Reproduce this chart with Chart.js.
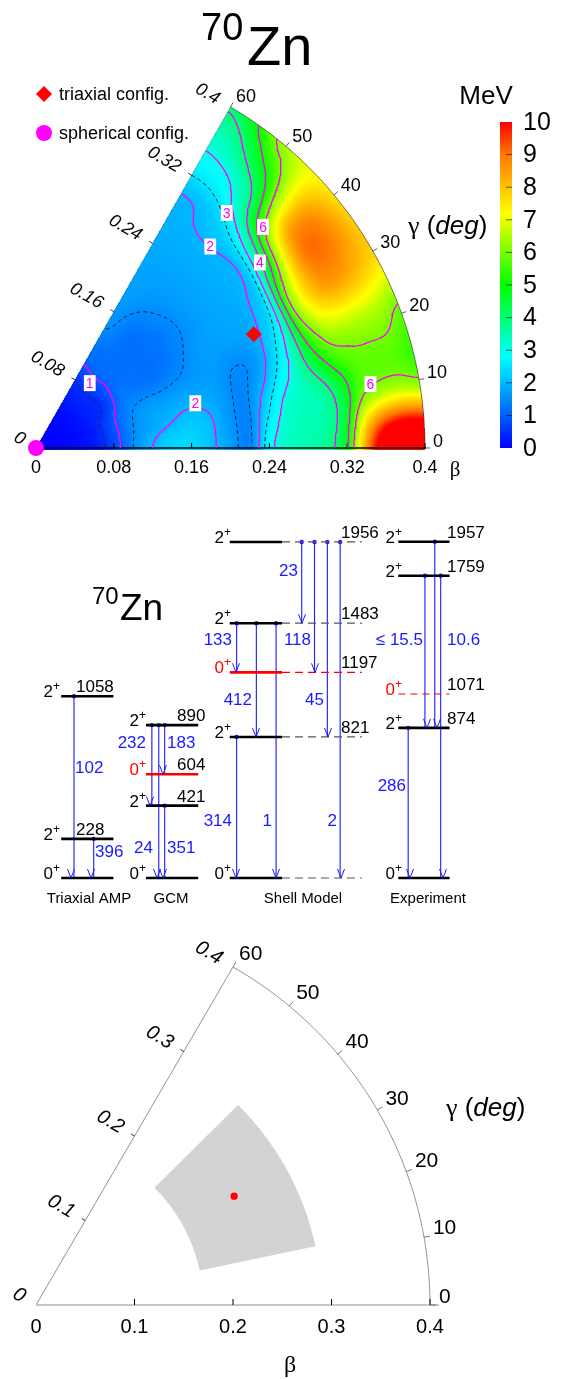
<!DOCTYPE html>
<html>
<head>
<meta charset="utf-8">
<script src="https://cdn.jsdelivr.net/npm/chart.js@4.4.0/dist/chart.umd.min.js"></script>
<style>
  body { margin: 0; background: #fff; }
  #wrap { position: relative; width: 562px; height: 1379px; }
  canvas { position: absolute; left: 0; }
</style>
</head>
<body>
<div id="wrap">
  <canvas id="pes" width="562" height="480" style="top:0px"></canvas>
  <canvas id="levels" width="562" height="440" style="top:480px"></canvas>
  <canvas id="sector" width="562" height="459" style="top:920px"></canvas>
</div>
<script>
// ---------- data: potential energy surface (MeV), beta step 0.02, gamma step 10 deg ----------
const betaStep = 0.02;
const gammaStep = 10;
const pesGamma0  = [0.00,0.03,0.10,0.25,0.75,1.50,2.00,2.35,2.35,2.10,1.70,1.42,2.80,3.30,3.50,3.75,4.90,8.50,11.0,12.0,12.0];
const pesGamma10 = [0.00,0.03,0.10,0.27,0.78,1.45,1.80,2.00,2.15,2.05,1.65,1.42,2.30,3.10,3.35,3.60,4.50,5.80,6.20,6.30,6.10];
const pesGamma20 = [0.00,0.03,0.10,0.28,0.80,1.40,1.65,1.70,1.75,1.72,1.65,1.45,1.65,2.35,3.30,5.00,6.10,6.30,6.30,6.20,5.80];
const pesGamma30 = [0.00,0.03,0.10,0.30,0.55,1.25,1.30,1.25,1.35,1.55,1.70,1.75,1.80,2.00,2.80,6.00,7.70,8.60,8.60,8.20,7.80];
const pesGamma40 = [0.00,0.03,0.10,0.30,0.55,1.10,1.20,1.20,1.25,1.40,1.60,1.75,1.85,1.93,2.20,4.00,6.70,8.40,8.70,8.30,7.60];
const pesGamma50 = [0.00,0.03,0.10,0.30,0.60,1.15,1.20,1.20,1.30,1.50,1.65,1.75,1.85,1.92,2.10,2.45,3.20,3.80,4.70,5.60,6.40];
const pesGamma60 = [0.00,0.03,0.10,0.30,0.50,1.05,1.25,1.50,1.60,1.70,1.75,1.80,1.85,1.90,1.92,2.02,2.50,2.85,3.20,3.60,4.10];
const solidLevels = [1, 2, 3, 4, 5, 6];
const dashedLevels = [0.5, 1.5, 2.5];
const colorbarTicks = [0,1,2,3,4,5,6,7,8,9,10];
const pesBetaTicks = [0, 0.08, 0.16, 0.24, 0.32, 0.4];
const gammaTicks = [0, 10, 20, 30, 40, 50, 60];
const triaxialConfig = { beta: 0.252, gamma: 27.3 };
const sphericalConfig = { beta: 0, gamma: 0 };
// contour labels: [text, beta, gamma]
const contourLabels = [['1',0.086,50],['2',0.170,15.5],['2',0.272,48.8],['3',0.309,50.6],['6',0.324,43.9],['4',0.2975,39.3],['6',0.350,10.7]];

// ---------- data: level schemes (keV) ----------
const schemeNames = ['Triaxial AMP', 'GCM', 'Shell Model', 'Experiment'];
const ampE = [0, 228, 1058];          const ampJ = [0, 2, 2];
const gcmE = [0, 421, 604, 890];      const gcmJ = [0, 2, 0, 2];
const smE  = [0, 821, 1197, 1483, 1956]; const smJ = [0, 2, 0, 2, 2];
const expE = [0, 874, 1071, 1759, 1957]; const expJ = [0, 2, 0, 2, 2];
// transitions [from, to, B(E2)]
const ampTr = [[1058,0,'102'],[228,0,'396']];
const gcmTr = [[890,421,'232'],[890,0,'24'],[890,604,'183'],[421,0,'351']];
const smTr  = [[1956,1483,'23'],[1956,1197,'118'],[1956,821,'45'],[1956,0,'2'],
               [1483,1197,'133'],[1483,821,'412'],[1483,0,'1'],[821,0,'314']];
const expTr = [[1957,874,''],[1759,874,'\u2264 15.5'],[1759,0,'10.6'],[874,0,'286']];

// ---------- data: deformation region ----------
const sectorBetaTicks = [0, 0.1, 0.2, 0.3, 0.4];
const regionBeta = [0.17, 0.29];
const regionGamma = [12, 45];
const regionCentre = { beta: 0.23, gamma: 29 };

// ---------- helpers ----------
const SANS = '"Liberation Sans", Arial, Helvetica, sans-serif';
const SERIF = '"Liberation Serif", "DejaVu Serif", serif';
const DEG = Math.PI / 180;
const SIN60 = Math.sin(60 * DEG);
const pesRows = [pesGamma0, pesGamma10, pesGamma20, pesGamma30, pesGamma40, pesGamma50, pesGamma60];
const nBeta = pesGamma0.length - 1, nGamma = pesRows.length - 1;

function gridAt(i, j) {
  if (j < 0) j = -j;
  if (j > nGamma) j = 2 * nGamma - j;
  if (i < 0) i = -i;
  if (i > nBeta) i = nBeta;
  return pesRows[j][i];
}
function cr(p0, p1, p2, p3, t) {
  return 0.5 * (2 * p1 + (p2 - p0) * t + (2 * p0 - 5 * p1 + 4 * p2 - p3) * t * t + (3 * p1 - p0 - 3 * p2 + p3) * t * t * t);
}
function pesValue(beta, gamma) {
  const fi = Math.min(beta / betaStep, nBeta - 1e-6);
  const fj = Math.min(Math.max(gamma, 0) / gammaStep, nGamma - 1e-6);
  const i = Math.floor(fi), j = Math.floor(fj);
  const col = [];
  for (let dj = -1; dj <= 2; dj++) {
    col.push(cr(gridAt(i - 1, j + dj), gridAt(i, j + dj), gridAt(i + 1, j + dj), gridAt(i + 2, j + dj), fi - i));
  }
  return cr(col[0], col[1], col[2], col[3], fj - j);
}
const cmapStops = [[0,[0,0,255]],[1.5,[0,140,255]],[2.8,[0,255,255]],[5,[0,255,0]],[7.2,[255,255,0]],[9,[255,120,0]],[10,[255,0,0]]];
function colorFor(v) {
  if (v <= cmapStops[0][0]) return cmapStops[0][1];
  for (let k = 1; k < cmapStops.length; k++) {
    if (v <= cmapStops[k][0]) {
      const [v0, c0] = cmapStops[k - 1], [v1, c1] = cmapStops[k];
      const t = (v - v0) / (v1 - v0);
      return [0, 1, 2].map(n => Math.round(c0[n] + (c1[n] - c0[n]) * t));
    }
  }
  return cmapStops[cmapStops.length - 1][1];
}
const toXY = (beta, gamma) => ({ x: beta * Math.cos(gamma * DEG), y: beta * Math.sin(gamma * DEG) });

// marching squares on a polar sampling of the surface, chained into polylines
const NB = 200, NG = 120;
const sampled = [];
for (let i = 0; i <= NB; i++) {
  const row = [];
  for (let j = 0; j <= NG; j++) row.push(pesValue(0.4 * i / NB, 60 * j / NG));
  sampled.push(row);
}
function contourLines(level) {
  const pts = new Map(), segs = [];
  const edge = (key, i1, j1, i2, j2) => {
    if (!pts.has(key)) {
      const a = sampled[i1][j1], b = sampled[i2][j2];
      const t = (level - a) / (b - a);
      pts.set(key, [0.4 * (i1 + (i2 - i1) * t) / NB, 60 * (j1 + (j2 - j1) * t) / NG]);
    }
    return key;
  };
  for (let i = 0; i < NB; i++) {
    for (let j = 0; j < NG; j++) {
      const a = sampled[i][j] < level, b = sampled[i + 1][j] < level;
      const c = sampled[i + 1][j + 1] < level, d = sampled[i][j + 1] < level;
      const e = [];
      if (a !== b) e.push(edge('h' + i + ',' + j, i, j, i + 1, j));
      if (b !== c) e.push(edge('v' + (i + 1) + ',' + j, i + 1, j, i + 1, j + 1));
      if (d !== c) e.push(edge('h' + i + ',' + (j + 1), i, j + 1, i + 1, j + 1));
      if (a !== d) e.push(edge('v' + i + ',' + j, i, j, i, j + 1));
      if (e.length === 2) segs.push(e);
      else if (e.length === 4) { segs.push([e[0], e[1]]); segs.push([e[2], e[3]]); }
    }
  }
  const byKey = new Map();
  segs.forEach((s, n) => s.forEach(k => { if (!byKey.has(k)) byKey.set(k, []); byKey.get(k).push(n); }));
  const used = new Array(segs.length).fill(false);
  const lines = [];
  for (let n = 0; n < segs.length; n++) {
    if (used[n]) continue;
    used[n] = true;
    const chain = [segs[n][0], segs[n][1]];
    for (const atEnd of [true, false]) {
      for (;;) {
        const k = atEnd ? chain[chain.length - 1] : chain[0];
        const next = (byKey.get(k) || []).find(m => !used[m]);
        if (next === undefined) break;
        used[next] = true;
        const other = segs[next][0] === k ? segs[next][1] : segs[next][0];
        if (atEnd) chain.push(other); else chain.unshift(other);
      }
    }
    lines.push(chain.map(k => toXY(pts.get(k)[0], pts.get(k)[1])));
  }
  return lines;
}

function text(ctx, s, x, y, font, color, align, baseline) {
  ctx.font = font;
  ctx.fillStyle = color || '#000';
  ctx.textAlign = align || 'left';
  ctx.textBaseline = baseline || 'alphabetic';
  ctx.fillText(s, x, y);
}

// common frame of a beta-gamma sector
function drawSector(chart, o) {
  const { ctx, scales: { x, y } } = chart;
  const P = (b, g) => { const p = toXY(b, g); return { x: x.getPixelForValue(p.x), y: y.getPixelForValue(p.y) }; };
  const O = P(0, 0), V = P(0.4, 60);
  ctx.save();
  // arc
  ctx.beginPath();
  for (let g = 0; g <= 60; g += 0.5) { const p = P(0.4, g); g === 0 ? ctx.moveTo(p.x, p.y) : ctx.lineTo(p.x, p.y); }
  ctx.strokeStyle = o.arcColor; ctx.lineWidth = o.arcWidth; ctx.stroke();
  // left edge
  ctx.beginPath(); ctx.moveTo(O.x, O.y); ctx.lineTo(V.x, V.y);
  ctx.strokeStyle = o.edgeColor; ctx.lineWidth = o.edgeWidth; ctx.stroke();
  // bottom axis
  ctx.beginPath(); ctx.moveTo(O.x, O.y); ctx.lineTo(P(0.4, 0).x + o.axisOver, O.y);
  ctx.strokeStyle = o.axisColor; ctx.lineWidth = o.axisWidth; ctx.stroke();
  // bottom ticks and labels
  ctx.strokeStyle = '#000'; ctx.lineWidth = 1;
  o.betaTicks.forEach(t => {
    const p = P(t, 0);
    if (t > 0) { ctx.beginPath(); ctx.moveTo(p.x, O.y); ctx.lineTo(p.x, O.y - o.tickLen); ctx.stroke(); }
    text(ctx, String(t), p.x, O.y + o.betaLabelDy, o.tickFont, '#000', 'center');
  });
  // left edge ticks and italic labels
  const dx = V.x - O.x, dy = V.y - O.y, L = Math.hypot(dx, dy);
  const n = { x: dy / L, y: -dx / L };
  const rot = Math.atan2(-n.y, -n.x);
  o.betaTicks.forEach(t => {
    const p = P(t, 60);
    if (t > 0 && t < 0.4) {
      ctx.beginPath(); ctx.moveTo(p.x, p.y); ctx.lineTo(p.x + n.x * 4, p.y + n.y * 4);
      ctx.strokeStyle = '#000'; ctx.lineWidth = 0.8; ctx.stroke();
    }
    ctx.font = 'italic ' + o.tickFont;
    const w = ctx.measureText(String(t)).width;
    const off = 14 + w / 2;
    ctx.save();
    ctx.translate(p.x + n.x * off, p.y + n.y * off);
    ctx.rotate(rot);
    text(ctx, String(t), 0, 0, 'italic ' + o.tickFont, '#000', 'center', 'middle');
    ctx.restore();
  });
  // gamma ticks and labels
  gammaTicks.forEach(g => {
    const p = P(0.4, g);
    const ux = (p.x - O.x), uy = (p.y - O.y), ul = Math.hypot(ux, uy);
    const ex = p.x + ux / ul * o.arcTick, ey = p.y + uy / ul * o.arcTick;
    ctx.beginPath(); ctx.moveTo(p.x, p.y); ctx.lineTo(ex, ey);
    ctx.strokeStyle = o.arcTickColor; ctx.lineWidth = 0.8; ctx.stroke();
    text(ctx, String(g), ex + o.gLabelDx, ey + o.gLabelDy, o.gammaFont, '#000', 'left');
  });
  ctx.restore();
}
function drawAxisTitles(ctx, betaPos, gammaPos, betaFont, gammaSize) {
  text(ctx, '\u03b2', betaPos[0], betaPos[1], betaFont, '#000', 'center');
  let gx = gammaPos[0];
  const gy = gammaPos[1];
  const parts = [['\u03b3', gammaSize + 'px ' + SERIF], [' (', gammaSize + 'px ' + SANS], ['deg', 'italic ' + gammaSize + 'px ' + SANS], [')', gammaSize + 'px ' + SANS]];
  parts.forEach(([s, f]) => { text(ctx, s, gx, gy, f, '#000', 'left'); ctx.font = f; gx += ctx.measureText(s).width; });
}

const baseOptions = (padding, xMax, yMax) => ({
  responsive: false, animation: false, devicePixelRatio: 1, events: [],
  layout: { padding },
  plugins: { legend: { display: false }, tooltip: { enabled: false } },
  scales: {
    x: { type: 'linear', min: 0, max: xMax, display: false },
    y: { type: 'linear', min: 0, max: yMax, display: false }
  }
});

// ================= panel 1: PES =================
const pesDatasets = [
  { data: [toXY(triaxialConfig.beta, triaxialConfig.gamma)], pointStyle: 'rectRot', pointRadius: 8,
    backgroundColor: '#ff0000', borderWidth: 0, clip: false, order: 0 },
  { data: [toXY(sphericalConfig.beta, sphericalConfig.gamma)], pointStyle: 'circle', pointRadius: 8,
    backgroundColor: '#ff00ff', borderWidth: 0, clip: false, order: 0 }
];
solidLevels.forEach(l => contourLines(l).forEach(line => pesDatasets.push({
  data: line, showLine: true, pointRadius: 0, borderColor: '#ff00ff', borderWidth: 1.3, clip: false, order: 1
})));
dashedLevels.forEach(l => contourLines(l).forEach(line => pesDatasets.push({
  data: line, showLine: true, pointRadius: 0, borderColor: '#222', borderWidth: 1, borderDash: [4, 3], clip: false, order: 1
})));

const pesPlugin = {
  id: 'pesPlugin',
  beforeDatasetsDraw(chart) {
    const { ctx, chartArea: a, scales: { x, y } } = chart;
    const x0 = Math.floor(a.left), y0 = Math.floor(a.top);
    const w = Math.ceil(a.right) - x0 + 2, h = Math.ceil(a.bottom) - y0 + 3;
    const off = document.createElement('canvas');
    off.width = w; off.height = h;
    const octx = off.getContext('2d');
    const img = octx.createImageData(w, h);
    for (let r = 0; r < h; r++) {
      for (let c = 0; c < w; c++) {
        const X = x.getValueForPixel(x0 + c + 0.5);
        let Y = y.getValueForPixel(y0 + r + 0.5);
        if (Y < 0) { if (Y < -0.0025) continue; Y = 0; }
        if (X < 0) continue;
        const b = Math.hypot(X, Y);
        if (b > 0.4) continue;
        const g = Math.atan2(Y, X) / DEG;
        if (g > 60) continue;
        const col = colorFor(pesValue(b, g));
        const k = (r * w + c) * 4;
        img.data[k] = col[0]; img.data[k + 1] = col[1]; img.data[k + 2] = col[2]; img.data[k + 3] = 255;
      }
    }
    octx.putImageData(img, 0, 0);
    ctx.drawImage(off, x0, y0);
    drawSector(chart, {
      arcColor: 'rgba(60,60,40,0.85)', arcWidth: 0.8, edgeColor: 'rgba(0,80,80,0.45)', edgeWidth: 0.8,
      axisColor: '#000', axisWidth: 1.6, axisOver: 1, tickLen: 5, betaTicks: pesBetaTicks,
      betaLabelDy: 25, tickFont: '18px ' + SANS, arcTick: 5, arcTickColor: '#333',
      gammaFont: '18px ' + SANS, gLabelDx: 3, gLabelDy: -1
    });
  },
  afterDatasetsDraw(chart) {
    const { ctx, scales: { x, y } } = chart;
    ctx.save();
    // contour labels
    contourLabels.forEach(([s, b, g]) => {
      const p = toXY(b, g), px = x.getPixelForValue(p.x), py = y.getPixelForValue(p.y);
      ctx.font = '14px ' + SANS;
      const w = ctx.measureText(s).width + 4;
      ctx.fillStyle = '#fff'; ctx.fillRect(px - w / 2, py - 8, w, 16);
      text(ctx, s, px, py + 1, '14px ' + SANS, '#ff00ff', 'center', 'middle');
    });
    // title
    text(ctx, '70', 201, 40, '38px ' + SANS, '#000');
    text(ctx, 'Zn', 247, 65, '56px ' + SANS, '#000');
    // legend
    ctx.fillStyle = '#ff0000';
    ctx.beginPath(); ctx.moveTo(44, 86); ctx.lineTo(52, 94); ctx.lineTo(44, 102); ctx.lineTo(36, 94); ctx.closePath(); ctx.fill();
    text(ctx, 'triaxial config.', 59, 100, '18px ' + SANS, '#000');
    ctx.fillStyle = '#ff00ff';
    ctx.beginPath(); ctx.arc(44, 133, 8, 0, 2 * Math.PI); ctx.fill();
    text(ctx, 'spherical config.', 59, 139, '18px ' + SANS, '#000');
    // axis titles
    drawAxisTitles(ctx, [455, 476], [408, 234], '21px ' + SERIF, 26);
    // colour bar
    const cb = { x: 500, w: 12, top: 122, bottom: 448 };
    const span = cb.bottom - cb.top, vMax = colorbarTicks[colorbarTicks.length - 1];
    for (let py = cb.top; py < cb.bottom; py++) {
      const c = colorFor(vMax * (cb.bottom - py - 0.5) / span);
      ctx.fillStyle = 'rgb(' + c.join(',') + ')';
      ctx.fillRect(cb.x, py, cb.w, 1);
    }
    colorbarTicks.forEach(t => {
      const ty = cb.bottom - t * span / vMax;
      if (t > 0 && t < vMax) {
        ctx.beginPath(); ctx.moveTo(cb.x + cb.w - 6, ty); ctx.lineTo(cb.x + cb.w, ty);
        ctx.strokeStyle = 'rgba(0,0,0,0.6)'; ctx.lineWidth = 1; ctx.stroke();
      }
      text(ctx, String(t), 523, ty + 1, '25px ' + SANS, '#000', 'left', 'middle');
    });
    text(ctx, 'MeV', 486, 104, '26px ' + SANS, '#000', 'center');
    ctx.restore();
  }
};

new Chart(document.getElementById('pes'), {
  type: 'scatter',
  data: { datasets: pesDatasets },
  options: baseOptions({ left: 36, right: 137, top: 107, bottom: 32 }, 0.4, 0.4 * SIN60),
  plugins: [pesPlugin]
});

// ================= panel 2: level schemes =================
const schemes = [
  { E: ampE, J: ampJ, tr: ampTr },
  { E: gcmE, J: gcmJ, tr: gcmTr },
  { E: smE,  J: smJ,  tr: smTr },
  { E: expE, J: expJ, tr: expTr }
];
// layout per column (pixels / label heights in keV)
const schemeLayout = [
  { x1: 58,  x2: 111, ext: null, eX: 76,  nameX: 89,  dashed: [],
    trX: [71, 91], side: ['r', 'r'], labE: [640, 151] },
  { x1: 144, x2: 197, ext: null, eX: 177, nameX: 171, dashed: [],
    trX: [150, 157, 163, 163], side: ['l', 'l', 'r', 'r'], labE: [786, 175, 786, 175] },
  { x1: 229, x2: 282, ext: 363,  eX: 341, nameX: 303, dashed: [],
    trX: [302, 315, 328, 341, 236, 256, 276, 236], side: ['l','l','l','l','l','l','l','l'],
    labE: [1787, 1385, 1036, 332, 1385, 1036, 332, 332] },
  { x1: 400, x2: 452, ext: null, eX: 447, nameX: 428, dashed: [1071],
    trX: [437, 427, 443, 410], side: ['l', 'l', 'r', 'l'], labE: [0, 1385, 1385, 535] }
];
const BLUE = '#1a1aff';
const levelDatasets = [];
schemes.forEach((s, c) => {
  const lay = schemeLayout[c];
  s.tr.forEach((t, k) => levelDatasets.push({
    data: [{ x: lay.trX[k], y: t[0] }, { x: lay.trX[k], y: t[1] }], showLine: true,
    borderColor: BLUE, borderWidth: 1.1, pointRadius: [2.2, 0], pointBackgroundColor: BLUE,
    pointBorderWidth: 0, clip: false, order: 2
  }));
  s.E.forEach((e, k) => {
    const red = s.J[k] === 0 && e > 0;
    const dashed = lay.dashed.includes(e);
    levelDatasets.push({
      data: [{ x: lay.x1, y: e }, { x: lay.x2, y: e }], showLine: true, pointRadius: 0,
      borderColor: red ? '#ff0000' : '#000', borderWidth: dashed ? 1.2 : 2.6,
      borderDash: dashed ? [7, 5] : [], clip: false, order: 1
    });
    if (lay.ext) levelDatasets.push({
      data: [{ x: lay.x2, y: e }, { x: lay.ext, y: e }], showLine: true, pointRadius: 0,
      borderColor: red ? '#ff0000' : '#555', borderWidth: 1.2, borderDash: [8, 5], clip: false, order: 1
    });
  });
});

function spinLabel(ctx, j, xRight, y, color) {
  ctx.font = '17px ' + SANS;
  const w1 = ctx.measureText(String(j)).width;
  ctx.font = '12px ' + SANS;
  const w2 = ctx.measureText('+').width;
  text(ctx, String(j), xRight - w1 - w2, y, '17px ' + SANS, color);
  text(ctx, '+', xRight - w2, y - 7, '12px ' + SANS, color);
}

const levelPlugin = {
  id: 'levelPlugin',
  afterDatasetsDraw(chart) {
    const { ctx, scales: { y } } = chart;
    ctx.save();
    schemes.forEach((s, c) => {
      const lay = schemeLayout[c];
      s.E.forEach((e, k) => {
        const ly = y.getPixelForValue(e);
        const red = s.J[k] === 0 && e > 0;
        spinLabel(ctx, s.J[k], lay.x1 + 2, ly + 1, red ? '#ff0000' : '#000');
        if (e > 0) text(ctx, String(e), lay.eX, ly - 4, '17px ' + SANS, '#000');
      });
      s.tr.forEach((t, k) => {
        const tx = lay.trX[k], tip = y.getPixelForValue(t[1]);
        ctx.beginPath(); ctx.moveTo(tx - 3.5, tip - 9); ctx.lineTo(tx, tip); ctx.lineTo(tx + 3.5, tip - 9);
        ctx.strokeStyle = BLUE; ctx.lineWidth = 1; ctx.stroke();
        if (t[2]) {
          const right = lay.side[k] === 'r';
          text(ctx, t[2], right ? tx + 4 : tx - 4, y.getPixelForValue(lay.labE[k]), '17px ' + SANS, BLUE,
               right ? 'left' : 'right', 'middle');
        }
      });
      text(ctx, schemeNames[c], lay.nameX, 423, '15px ' + SANS, '#000', 'center');
    });
    text(ctx, '70', 92, 124, '24px ' + SANS, '#000');
    text(ctx, 'Zn', 120, 140, '37px ' + SANS, '#000');
    ctx.restore();
  }
};

new Chart(document.getElementById('levels'), {
  type: 'scatter',
  data: { datasets: levelDatasets },
  options: baseOptions({ left: 0, right: 0, top: 54.4, bottom: 42 }, 562, 2000),
  plugins: [levelPlugin]
});

// ================= panel 3: deformation region =================
const regionPts = [];
for (let g = regionGamma[0]; g <= regionGamma[1] + 1e-9; g += 0.5) regionPts.push(toXY(regionBeta[0], g));
for (let g = regionGamma[1]; g >= regionGamma[0] - 1e-9; g -= 0.5) regionPts.push(toXY(regionBeta[1], g));
regionPts.push(regionPts[0]);

const sectorPlugin = {
  id: 'sectorPlugin',
  beforeDatasetsDraw(chart) {
    drawSector(chart, {
      arcColor: '#777', arcWidth: 0.8, edgeColor: '#777', edgeWidth: 0.8,
      axisColor: '#c8c8c8', axisWidth: 2, axisOver: 9, tickLen: 6, betaTicks: sectorBetaTicks,
      betaLabelDy: 28, tickFont: '20px ' + SANS, arcTick: 6, arcTickColor: '#555',
      gammaFont: '21px ' + SANS, gLabelDx: 3, gLabelDy: -2
    });
  },
  afterDatasetsDraw(chart) {
    drawAxisTitles(chart.ctx, [290, 452], [446, 196], '24px ' + SERIF, 26);
  }
};

new Chart(document.getElementById('sector'), {
  type: 'scatter',
  data: { datasets: [
    { data: [toXY(regionCentre.beta, regionCentre.gamma)], pointRadius: 3.6, backgroundColor: '#ff0000',
      borderWidth: 0, order: 0 },
    { data: regionPts, showLine: true, fill: 'shape', backgroundColor: '#d3d3d3', borderWidth: 0,
      borderColor: 'rgba(0,0,0,0)', pointRadius: 0, order: 1 }
  ] },
  options: baseOptions({ left: 36, right: 132, top: 47, bottom: 74 }, 0.4, 0.4 * SIN60),
  plugins: [sectorPlugin]
});
</script>
</body>
</html>
